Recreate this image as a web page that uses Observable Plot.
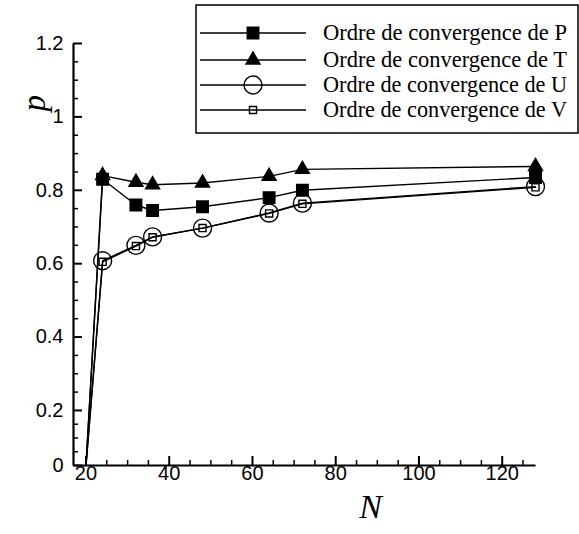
<!DOCTYPE html>
<html>
<head>
<meta charset="utf-8">
<script src="https://cdn.jsdelivr.net/npm/d3@7"></script>
<script src="https://cdn.jsdelivr.net/npm/@observablehq/plot@0.6"></script>
<style>
  html, body { margin: 0; padding: 0; background: #fff; }
  #chart { position: relative; width: 579px; height: 534px; }
</style>
</head>
<body>
<div id="chart"></div>
<script>
// Mesh size N and observed convergence order p for each variable
const N  = [20, 24, 32, 36, 48, 64, 72, 128];
const pP = [0, 0.83, 0.76, 0.745, 0.755, 0.78, 0.80, 0.835];
const pT = [0, 0.84, 0.822, 0.815, 0.82, 0.838, 0.857, 0.865];
const pU = [0, 0.608, 0.65, 0.673, 0.697, 0.738, 0.765, 0.81];
const pV = [0, 0.605, 0.648, 0.672, 0.697, 0.737, 0.763, 0.808];

const seriesNames = ["P", "T", "U", "V"];
const legendLabels = seriesNames.map(s => "Ordre de convergence de " + s);

const xMajor = [20, 40, 60, 80, 100, 120];
const xMinor = [25, 30, 35, 45, 50, 55, 65, 70, 75, 85, 90, 95, 105, 110, 115, 125];
const yMajor = [0, 0.2, 0.4, 0.6, 0.8, 1, 1.2];
const yMinor = [0.05, 0.1, 0.15, 0.25, 0.3, 0.35, 0.45, 0.5, 0.55, 0.65, 0.7, 0.75,
                0.85, 0.9, 0.95, 1.05, 1.1, 1.15];

// The p axis is condensed below 0.2: that first interval takes 3/4 of the normal length.
const squeeze = p => (p < 0.2 ? 0.05 + 0.75 * p : p);
const fmt = d3.format("~g");

// marker style per series
const markerStyle = {
  P: {symbol: "square",   r: 6.5, fill: "black", stroke: "black"},
  T: {symbol: "triangle", r: 5.2, fill: "black", stroke: "black"},
  U: {symbol: "circle",   r: 9,   fill: "none",  stroke: "black"},
  V: {symbol: "square",   r: 4,   fill: "none",  stroke: "black"}
};

const values = {P: pP, T: pT, U: pU, V: pV};
const rows = seriesNames.flatMap(s => N.map((n, i) => ({series: s, N: n, p: values[s][i], i})));
const yOf = d => squeeze(d.p);

const serif = "'Liberation Serif', 'Times New Roman', serif";
const sans = "'Liberation Sans', Arial, sans-serif";

// plot frame geometry
const W = 579, H = 534;
const mL = 73, mR = 44, mT = 43, mB = 69;
const frameW = W - mL - mR, frameH = H - mT - mB;
const xDomain = [17, 128];
const yDomain = [squeeze(0), 1.2];
// one pixel expressed in data units along each axis
const xPx = (xDomain[1] - xDomain[0]) / frameW;
const yPx = (yDomain[1] - yDomain[0]) / frameH;

const lineMarks = seriesNames.map(s =>
  Plot.line(rows.filter(d => d.series === s), {x: "N", y: yOf, stroke: "black", strokeWidth: 1.4})
);
const dotMarks = seriesNames.map(s => {
  const m = markerStyle[s];
  return Plot.dot(rows.filter(d => d.series === s && d.i > 0), {
    x: "N", y: yOf, symbol: m.symbol, r: m.r, fill: m.fill, stroke: m.stroke, strokeWidth: 1.4
  });
});

// inward tick marks along the bottom and left edges of the frame
const xTicks = (ticks, len, sw) => Plot.ruleX(ticks, {
  x: d => d, y1: yDomain[0], y2: yDomain[0] + len * yPx, stroke: "black", strokeWidth: sw
});
const yTicks = (ticks, len, sw) => Plot.ruleY(ticks, {
  y: d => squeeze(d), x1: xDomain[0], x2: xDomain[0] + len * xPx, stroke: "black", strokeWidth: sw
});

const chart = Plot.plot({
  width: W,
  height: H,
  marginLeft: mL,
  marginRight: mR,
  marginTop: mT,
  marginBottom: mB,
  style: {background: "white", fontFamily: sans, fontSize: "20px", color: "black"},
  x: {domain: xDomain, axis: null},
  y: {domain: yDomain, axis: null},
  marks: [
    // tick labels
    Plot.text(xMajor, {x: d => d, frameAnchor: "bottom", dy: 14, text: d => fmt(d), fontSize: 20, fontFamily: sans}),
    Plot.text(yMajor, {y: d => squeeze(d), frameAnchor: "left", dx: -10, textAnchor: "end", text: d => fmt(d), fontSize: 20, fontFamily: sans}),
    xTicks(xMajor, 9, 2),
    xTicks(xMinor, 5, 1.5),
    yTicks(yMajor, 9, 2),
    yTicks(yMinor, 5, 1.5),
    // axis lines
    Plot.link([0], {x1: xDomain[0], y1: yDomain[0], x2: xDomain[0], y2: yDomain[1], stroke: "black", strokeWidth: 2.2}),
    Plot.link([0], {x1: xDomain[0], y1: yDomain[0], x2: xDomain[1], y2: yDomain[0], stroke: "black", strokeWidth: 2.2}),
    ...lineMarks,
    ...dotMarks,
    // axis titles
    Plot.text(["N"], {frameAnchor: "bottom", dx: 66, dy: 52, fontFamily: serif, fontStyle: "italic", fontSize: 34}),
    Plot.text(["p"], {frameAnchor: "top-left", dx: -52, dy: 68, rotate: -90, fontFamily: serif, fontStyle: "italic", fontSize: 33})
  ]
});

document.getElementById("chart").appendChild(chart);

// legend box in the upper right corner
const svg = d3.select(chart);
const lg = svg.append("g").attr("class", "legend").attr("text-anchor", "start");
const box = {x0: 196, y0: 5, x1: 578, y1: 133};
lg.append("rect")
  .attr("x", box.x0).attr("y", box.y0)
  .attr("width", box.x1 - box.x0).attr("height", box.y1 - box.y0)
  .attr("fill", "white").attr("stroke", "black").attr("stroke-width", 1.5);

const rowY = [33, 60, 85, 110];
seriesNames.forEach((s, k) => {
  const y = rowY[k];
  const m = markerStyle[s];
  lg.append("line").attr("x1", 200).attr("x2", 306).attr("y1", y).attr("y2", y)
    .attr("stroke", "black").attr("stroke-width", 1.4);
  const sym = {square: d3.symbolSquare, triangle: d3.symbolTriangle, circle: d3.symbolCircle}[m.symbol];
  lg.append("path")
    .attr("d", d3.symbol(sym, Math.PI * m.r * m.r)())
    .attr("transform", `translate(253,${y})`)
    .attr("fill", m.fill).attr("stroke", m.stroke).attr("stroke-width", 1.4);
  lg.append("text")
    .attr("x", 323).attr("y", y + 7)
    .attr("text-anchor", "start")
    .attr("font-family", serif).attr("font-size", 23)
    .attr("textLength", 244).attr("lengthAdjust", "spacingAndGlyphs")
    .attr("fill", "black")
    .text(legendLabels[k]);
});
</script>
</body>
</html>
